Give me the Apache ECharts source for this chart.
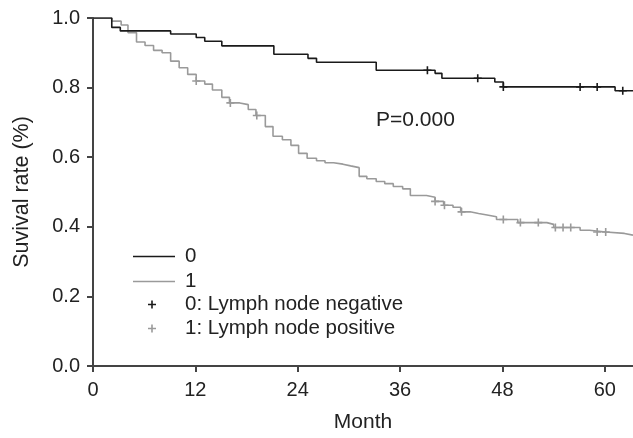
<!DOCTYPE html>
<html>
<head>
<meta charset="utf-8">
<script src="https://cdn.jsdelivr.net/npm/echarts@6/dist/echarts.min.js"></script>
<style>
html,body{margin:0;padding:0;background:#fff;}
#chart{width:633px;height:438px;}
</style>
</head>
<body>
<div id="chart"></div>
<script>
// Kaplan-Meier curves (time in months, survival proportion)
var negTimes = [0, 2.2, 3.2, 9.1, 12.1, 13.1, 15.1, 21.2, 25.2, 26.2, 33.2, 40.1, 40.9, 47.1, 48.1, 61.2, 63.3];
var negSurv  = [1.0, 0.973, 0.963, 0.954, 0.944, 0.933, 0.920, 0.896, 0.884, 0.873, 0.850, 0.841, 0.827, 0.816, 0.802, 0.791, 0.791];
var posTimes = [0, 2.2, 3.3, 4.1, 5.1, 6.1, 7.1, 8.1, 9.1, 10.1, 11.1, 12.1, 13.1, 14.0, 15.1, 16.0, 17.2, 18.2, 19.1, 20.2, 21.1, 22.2, 23.2, 24.1, 25.1, 26.2, 27.2, 28.2, 29.3, 30.2, 31.2, 32.1, 33.2, 34.2, 35.2, 36.3, 37.2, 39.1, 40.1, 41.1, 42.2, 43.1, 44.2, 45.2, 46.2, 47.3, 49.8, 53.2, 54.0, 57.1, 58.2, 60.1, 62.3, 63.3];
var posSurv  = [1.0, 0.991, 0.980, 0.958, 0.931, 0.921, 0.907, 0.900, 0.876, 0.857, 0.838, 0.819, 0.810, 0.793, 0.772, 0.756, 0.751, 0.737, 0.720, 0.688, 0.660, 0.650, 0.634, 0.611, 0.597, 0.590, 0.584, 0.580, 0.575, 0.570, 0.545, 0.538, 0.530, 0.524, 0.516, 0.509, 0.490, 0.485, 0.473, 0.462, 0.456, 0.443, 0.438, 0.434, 0.429, 0.421, 0.412, 0.407, 0.398, 0.390, 0.385, 0.381, 0.376, 0.376];
// Censored observations
var negCensorTimes = [39.2, 45.1, 48.1, 57.1, 59.1, 62.1];
var negCensorSurv  = [0.850, 0.827, 0.802, 0.802, 0.802, 0.791];
var posCensorTimes = [12.1, 16.1, 19.2, 40.1, 41.2, 43.2, 48.1, 50.1, 52.2, 54.2, 55.1, 56.0, 59.1, 60.1];
var posCensorSurv  = [0.819, 0.756, 0.720, 0.473, 0.462, 0.443, 0.421, 0.412, 0.412, 0.398, 0.398, 0.398, 0.385, 0.385];
var xTicks = [0, 12, 24, 36, 48, 60];
var yTicks = [0, 0.2, 0.4, 0.6, 0.8, 1.0];
var seriesNames = ['0', '1', '0: Lymph node negative', '1: Lymph node positive'];
var pText = 'P=0.000';

function zip(a, b) { return a.map(function (v, i) { return [v, b[i]]; }); }

var FONT = 'Liberation Sans, Arial, sans-serif';
var BLACK = '#1a1a1a';
var GRAY = '#9a9a9a';
var AXIS = '#444';
var TEXT = '#222';
var CROSS = 'path://M4,0H6V4H10V6H6V10H4V6H0V4H4Z';
var LINEICON = 'path://M0,0H42V1.6H0Z';

var chart = echarts.init(document.getElementById('chart'), null, { renderer: 'canvas' });
chart.setOption({
  animation: false,
  backgroundColor: '#fff',
  grid: { left: 93, right: 0, top: 18, bottom: 68 },
  title: {
    text: pText, left: 376, top: 110, padding: 0,
    textStyle: { fontFamily: FONT, fontSize: 21, fontWeight: 'normal', color: TEXT }
  },
  legend: [{
    data: [{ name: seriesNames[0], icon: LINEICON }, { name: seriesNames[1], icon: LINEICON }],
    orient: 'vertical', left: 133, top: 246, itemWidth: 42, itemHeight: 14, itemGap: 4,
    padding: 0, symbolKeepAspect: true,
    textStyle: { fontFamily: FONT, fontSize: 20.5, color: TEXT, padding: [0, 0, 0, 5] }
  }, {
    data: [seriesNames[2], seriesNames[3]],
    orient: 'vertical', left: 148, top: 294, itemWidth: 8, itemHeight: 8, itemGap: 3,
    padding: 0,
    textStyle: { fontFamily: FONT, fontSize: 20.5, color: TEXT, padding: [0, 0, 0, 24] }
  }],
  xAxis: {
    type: 'value', min: 0, max: 63.3, interval: 12,
    name: 'Month', nameLocation: 'middle', nameGap: 46,
    nameTextStyle: { fontFamily: FONT, fontSize: 21, color: TEXT },
    axisLine: { show: true, lineStyle: { color: AXIS, width: 2 } },
    axisTick: { show: true, length: 6, lineStyle: { color: AXIS, width: 2 }, customValues: xTicks },
    axisLabel: { margin: 14, fontFamily: FONT, fontSize: 20, color: TEXT, customValues: xTicks },
    splitLine: { show: false }
  },
  yAxis: {
    type: 'value', min: 0, max: 1, interval: 0.2,
    name: 'Suvival rate (%)', nameLocation: 'middle', nameGap: 60,
    nameTextStyle: { fontFamily: FONT, fontSize: 21.5, color: TEXT },
    axisLine: { show: true, lineStyle: { color: AXIS, width: 2 } },
    axisTick: { show: true, length: 6, lineStyle: { color: AXIS, width: 2 }, customValues: yTicks },
    axisLabel: { margin: 13, fontFamily: FONT, fontSize: 20, color: TEXT, customValues: yTicks,
      formatter: function (v) { return v.toFixed(1); } },
    splitLine: { show: false }
  },
  series: [{
    name: seriesNames[0], type: 'line', step: 'end', symbol: 'none',
    data: zip(negTimes, negSurv),
    lineStyle: { color: BLACK, width: 1.6 }, itemStyle: { color: BLACK }, z: 3
  }, {
    name: seriesNames[1], type: 'line', step: 'end', symbol: 'none',
    data: zip(posTimes, posSurv),
    lineStyle: { color: GRAY, width: 1.6 }, itemStyle: { color: GRAY }, z: 2
  }, {
    name: seriesNames[2], type: 'scatter', symbol: CROSS, symbolSize: 8,
    data: zip(negCensorTimes, negCensorSurv),
    itemStyle: { color: BLACK, opacity: 1 }, z: 4
  }, {
    name: seriesNames[3], type: 'scatter', symbol: CROSS, symbolSize: 8,
    data: zip(posCensorTimes, posCensorSurv),
    itemStyle: { color: GRAY, opacity: 1 }, z: 4
  }]
});
</script>
</body>
</html>
